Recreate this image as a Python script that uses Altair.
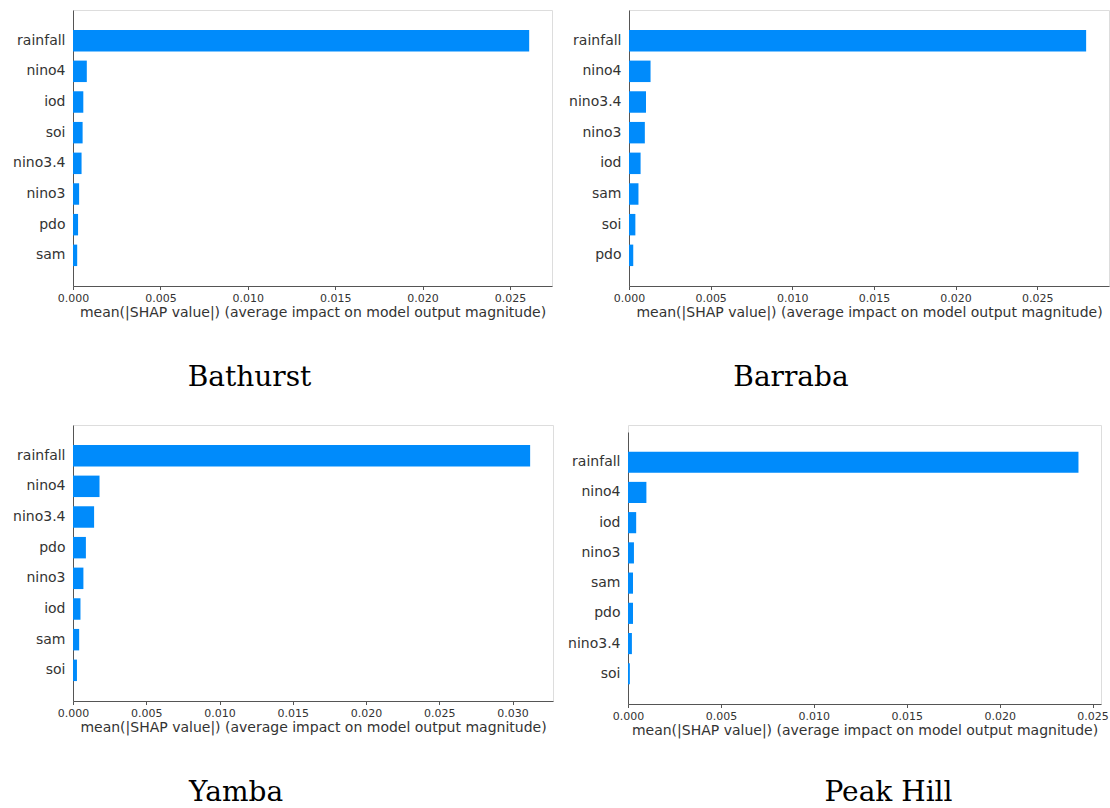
import altair as alt
import pandas as pd

AXIS_TITLE = "mean(|SHAP value|) (average impact on model output magnitude)"

# Bathurst
bathurst_features = ["rainfall", "nino4", "iod", "soi", "nino3.4", "nino3", "pdo", "sam"]
bathurst_values = [0.0261, 0.00079, 0.00059, 0.00055, 0.00049, 0.00035, 0.00029, 0.00024]
bathurst_ticks = [0.0, 0.005, 0.010, 0.015, 0.020, 0.025]

# Barraba
barraba_features = ["rainfall", "nino4", "nino3.4", "nino3", "iod", "sam", "soi", "pdo"]
barraba_values = [0.0280, 0.00132, 0.00104, 0.00097, 0.00071, 0.00058, 0.00039, 0.00026]
barraba_ticks = [0.0, 0.005, 0.010, 0.015, 0.020, 0.025]

# Yamba
yamba_features = ["rainfall", "nino4", "nino3.4", "pdo", "nino3", "iod", "sam", "soi"]
yamba_values = [0.0312, 0.00181, 0.00144, 0.00088, 0.00071, 0.00051, 0.00042, 0.00027]
yamba_ticks = [0.0, 0.005, 0.010, 0.015, 0.020, 0.025, 0.030]

# Peak Hill
peakhill_features = ["rainfall", "nino4", "iod", "nino3", "sam", "pdo", "nino3.4", "soi"]
peakhill_values = [0.02424, 0.00099, 0.00044, 0.00032, 0.00027, 0.00027, 0.00021, 0.00010]
peakhill_ticks = [0.0, 0.005, 0.010, 0.015, 0.020, 0.025]

TEXT = "#333333"


def panel(features, values, ticks, name, dx, offset, width, height, top=0):
    df = pd.DataFrame({"feature": features, "value": values})
    xmax = max(values) * 1.05
    yscale = alt.Scale(paddingInner=0.3, paddingOuter=0.65)
    if top:
        yscale = alt.Scale(paddingInner=0.3, paddingOuter=0.65, range=[top, height])
    return (
        alt.Chart(df)
        .mark_bar(color="#008bfb")
        .encode(
            y=alt.Y(
                "feature:N",
                sort=features,
                scale=yscale,
                axis=alt.Axis(
                    title=None, ticks=False, tickSize=0, labelPadding=8,
                    labelFontSize=14, labelColor=TEXT, labelFont="DejaVu Sans",
                    domainColor="#555555", domainWidth=1,
                ),
            ),
            x=alt.X(
                "value:Q",
                scale=alt.Scale(domain=[0, xmax], nice=False, zero=True),
                axis=alt.Axis(
                    values=ticks, format=".3f", title=AXIS_TITLE,
                    labelFontSize=11, labelColor=TEXT, labelFont="DejaVu Sans",
                    labelFlush=False, labelOverlap=False,
                    labelPadding=3, tickSize=3.5, tickColor="#555555",
                    domainColor="#555555", domainWidth=1, grid=False,
                    titleFontSize=14, titleFont="DejaVu Sans", titleFontWeight="normal",
                    titleColor=TEXT, titlePadding=2,
                ),
            ),
        )
        .properties(
            width=width,
            height=height,
            title=alt.TitleParams(
                name, orient="bottom", anchor="middle", frame="group",
                font="DejaVu Serif", fontSize=28, fontWeight="normal",
                color="black", baseline="top", offset=offset, dx=dx,
            ),
        )
    )


p1 = panel(bathurst_features, bathurst_values, bathurst_ticks, "Bathurst", -63, 44, 479, 276)
p2 = panel(barraba_features, barraba_values, barraba_ticks, "Barraba", -78, 44, 480, 276)
p3 = panel(yamba_features, yamba_values, yamba_ticks, "Yamba", -77, 44, 480, 276)
p4 = panel(peakhill_features, peakhill_values, peakhill_ticks, "Peak Hill", 24, 41, 473, 279, top=7)

row1 = alt.hconcat(p1, p2, spacing=15)
row2 = alt.hconcat(p3, p4, spacing=13)

chart = (
    alt.vconcat(row1, row2, spacing=32)
    .properties(padding={"left": 12, "top": 9, "right": 0, "bottom": 0})
    .configure_view(stroke=None)
    .configure(background="white")
)

chart.save("out.html", embed_options={"renderer": "svg", "actions": False})
